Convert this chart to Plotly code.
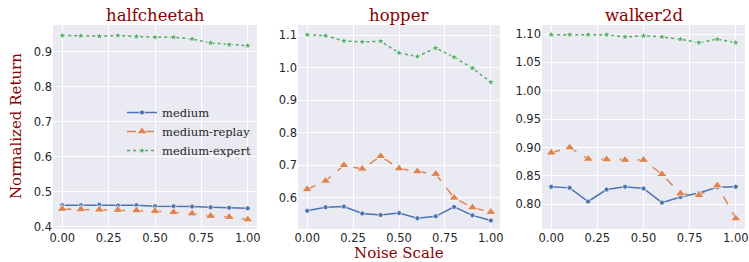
import plotly.graph_objects as go

noise = [0.0, 0.1, 0.2, 0.3, 0.4, 0.5, 0.6, 0.7, 0.8, 0.9, 1.0]
envs = ["halfcheetah", "hopper", "walker2d"]
series_names = ["medium", "medium-replay", "medium-expert"]

halfcheetah_medium = [0.462, 0.462, 0.463, 0.461, 0.462, 0.459, 0.459, 0.458, 0.456, 0.455, 0.453]
halfcheetah_replay = [0.451, 0.450, 0.449, 0.448, 0.447, 0.445, 0.442, 0.438, 0.431, 0.428, 0.421]
halfcheetah_expert = [0.947, 0.946, 0.945, 0.947, 0.944, 0.942, 0.942, 0.937, 0.926, 0.921, 0.918]

hopper_medium = [0.559, 0.570, 0.572, 0.551, 0.546, 0.552, 0.536, 0.542, 0.571, 0.545, 0.529]
hopper_replay = [0.625, 0.651, 0.699, 0.688, 0.727, 0.689, 0.680, 0.672, 0.599, 0.569, 0.555]
hopper_expert = [1.101, 1.098, 1.082, 1.079, 1.081, 1.045, 1.034, 1.060, 1.032, 0.998, 0.955]

walker_medium = [0.831, 0.829, 0.805, 0.826, 0.831, 0.828, 0.803, 0.813, 0.820, 0.830, 0.831]
walker_replay = [0.891, 0.900, 0.880, 0.879, 0.878, 0.878, 0.853, 0.819, 0.816, 0.833, 0.775]
walker_expert = [1.099, 1.099, 1.099, 1.099, 1.095, 1.097, 1.095, 1.091, 1.085, 1.091, 1.085]

data = {
    "halfcheetah": [halfcheetah_medium, halfcheetah_replay, halfcheetah_expert],
    "hopper": [hopper_medium, hopper_replay, hopper_expert],
    "walker2d": [walker_medium, walker_replay, walker_expert],
}

x_ticks = [0.0, 0.25, 0.5, 0.75, 1.0]
x_ticklabels = ["0.00", "0.25", "0.50", "0.75", "1.00"]
y_ticks = {
    "halfcheetah": [0.4, 0.5, 0.6, 0.7, 0.8, 0.9],
    "hopper": [0.6, 0.7, 0.8, 0.9, 1.0, 1.1],
    "walker2d": [0.80, 0.85, 0.90, 0.95, 1.00, 1.05, 1.10],
}
y_ticklabels = {
    "halfcheetah": ["0.4", "0.5", "0.6", "0.7", "0.8", "0.9"],
    "hopper": ["0.6", "0.7", "0.8", "0.9", "1.0", "1.1"],
    "walker2d": ["0.80", "0.85", "0.90", "0.95", "1.00", "1.05", "1.10"],
}
y_ranges = {
    "halfcheetah": [0.394, 0.977],
    "hopper": [0.503, 1.131],
    "walker2d": [0.7565, 1.116],
}

W, H = 749, 262
x_domains = [[53 / W, 257 / W], [298 / W, 500 / W], [542 / W, 745 / W]]
y_domain = [1 - 229 / H, 1 - 25 / H]

colors = ["#4C72B0", "#DD8452", "#55A868"]
dashes = ["solid", "dash", "dot"]
symbols = ["circle", "triangle-up", "star"]
msizes = [5, 9, 6]

fig = go.Figure()
title_color = "#8B0000"
serif = "DejaVu Serif, serif"
tick_font = dict(family="DejaVu Sans, sans-serif", size=11.5, color="#262626")

layout = dict(
    width=W, height=H,
    margin=dict(l=0, r=0, t=0, b=0),
    paper_bgcolor="white",
    plot_bgcolor="#EAEAF2",
    showlegend=True,
    legend=dict(
        x=122 / W, y=1 - 98 / H, xanchor="left", yanchor="top",
        bgcolor="rgba(0,0,0,0)",
        font=dict(family=serif, size=11.5, color="#262626"),
        tracegroupgap=0, itemwidth=30,
    ),
    annotations=[],
)

for i, env in enumerate(envs):
    xa = "x" if i == 0 else f"x{i+1}"
    ya = "y" if i == 0 else f"y{i+1}"
    for j, name in enumerate(series_names):
        fig.add_trace(go.Scatter(
            x=noise, y=data[env][j], mode="lines+markers", name=name,
            xaxis=xa, yaxis=ya, showlegend=(i == 0),
            line=dict(color=colors[j], width=1.5, dash=dashes[j]),
            marker=dict(symbol=symbols[j], size=msizes[j], color=colors[j],
                        line=dict(color="white", width=0.7)),
        ))
    xkey = "xaxis" if i == 0 else f"xaxis{i+1}"
    ykey = "yaxis" if i == 0 else f"yaxis{i+1}"
    layout[xkey] = dict(
        domain=x_domains[i], anchor=ya, range=[-0.05, 1.05],
        tickvals=x_ticks, ticktext=x_ticklabels, tickfont=tick_font,
        showgrid=True, gridcolor="white", gridwidth=1, zeroline=False,
        showline=False, ticks="", automargin=False,
    )
    layout[ykey] = dict(
        domain=y_domain, anchor=xa, range=y_ranges[env],
        tickvals=y_ticks[env], ticktext=y_ticklabels[env], tickfont=tick_font,
        showgrid=True, gridcolor="white", gridwidth=1, zeroline=False,
        showline=False, ticks="", automargin=False,
    )
    cx = (x_domains[i][0] + x_domains[i][1]) / 2
    layout["annotations"].append(dict(
        text=env, x=cx, y=1 - 16 / H, xref="paper", yref="paper",
        xanchor="center", yanchor="middle", showarrow=False,
        font=dict(family=serif, size=16.5, color=title_color),
    ))

layout["annotations"].append(dict(
    text="Noise Scale", x=399 / W, y=1 - 253 / H, xref="paper", yref="paper",
    xanchor="center", yanchor="middle", showarrow=False,
    font=dict(family=serif, size=15, color=title_color),
))
layout["annotations"].append(dict(
    text="Normalized Return", x=16 / W, y=1 - 126 / H, xref="paper", yref="paper",
    xanchor="center", yanchor="middle", showarrow=False, textangle=-90,
    font=dict(family=serif, size=15, color=title_color),
))

fig.update_layout(**layout)
fig.write_html(
    "out.html",
    config={"displayModeBar": False},
    post_script="document.body.style.margin='0';document.body.style.overflow='hidden';",
)
